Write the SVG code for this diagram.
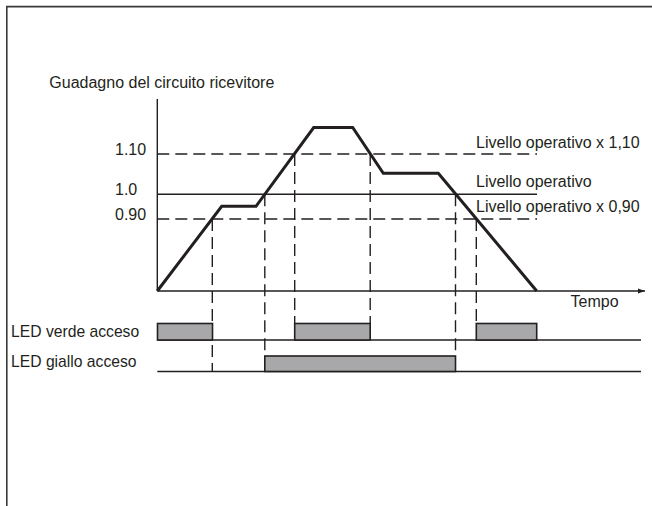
<svg xmlns="http://www.w3.org/2000/svg" width="652" height="506" viewBox="0 0 652 506">
<style>
  text { font-family: "Liberation Sans", Arial, Helvetica, sans-serif; font-size: 16px; fill: #231f20; }
  .led { font-size: 15.7px; }
  .thin { stroke: #231f20; stroke-width: 1.4; fill: none; }
  .dash { stroke: #231f20; stroke-width: 1.4; fill: none; stroke-dasharray: 12 6; }
  .curve { stroke: #231f20; stroke-width: 3; fill: none; stroke-linejoin: miter; }
  .bar { fill: #a8a8ab; stroke: #231f20; stroke-width: 1.6; }
  .frame { stroke: #3a3a3a; stroke-width: 1.6; fill: none; }
</style>
<defs>
  <marker id="arr" markerWidth="8" markerHeight="8" refX="7" refY="4" orient="auto" markerUnits="userSpaceOnUse">
    <path d="M0,1.5 L7,4 L0,6.5 Z" fill="#231f20"/>
  </marker>
</defs>
<rect width="652" height="506" fill="#ffffff"/>
<g id="frame">
  <path class="frame" d="M6.8,506 V6.6 H652"/>
</g>
<g id="axes">
  <line class="thin" x1="157.3" y1="99" x2="157.3" y2="291"/>
  <line class="thin" x1="157.3" y1="291" x2="645" y2="291" marker-end="url(#arr)"/>
  <text x="49.3" y="88">Guadagno del circuito ricevitore</text>
  <text x="570.5" y="306.7">Tempo</text>
</g>
<g id="levels">
  <line class="dash" x1="157.3" y1="154" x2="537" y2="154"/>
  <line class="thin" x1="157.3" y1="194.3" x2="537" y2="194.3"/>
  <line class="dash" x1="157.3" y1="219" x2="537" y2="219"/>
  <text x="115" y="155">1.10</text>
  <text x="115" y="195">1.0</text>
  <text x="115" y="220">0.90</text>
  <text x="476" y="148">Livello operativo x 1,10</text>
  <text x="476" y="187">Livello operativo</text>
  <text x="476" y="212">Livello operativo x 0,90</text>
</g>
<g id="gain-curve">
  <polyline class="curve" points="157.3,291 221.7,206.3 256,206.3 313.7,127.5 352.7,127.5 383.3,173.3 438.3,173.3 536.7,291"/>
</g>
<g id="connectors">
  <line class="dash" x1="212.3" y1="219" x2="212.3" y2="371.5"/>
  <line class="dash" x1="264.8" y1="194.3" x2="264.8" y2="356"/>
  <line class="dash" x1="294.7" y1="154" x2="294.7" y2="323.5"/>
  <line class="dash" x1="370.2" y1="154" x2="370.2" y2="323.5"/>
  <line class="dash" x1="455.5" y1="194.3" x2="455.5" y2="356"/>
  <line class="dash" x1="476.3" y1="219" x2="476.3" y2="323.5"/>
</g>
<g id="led-verde">
  <text class="led" x="11" y="337.3">LED verde acceso</text>
  <line class="thin" x1="157.3" y1="340" x2="641" y2="340"/>
  <rect class="bar" x="157.5" y="323.5" width="55" height="16.5"/>
  <rect class="bar" x="294.7" y="323.5" width="75.5" height="16.5"/>
  <rect class="bar" x="476.3" y="323.5" width="60.4" height="16.5"/>
</g>
<g id="led-giallo">
  <text class="led" x="11" y="366.5">LED giallo acceso</text>
  <line class="thin" x1="157.3" y1="371.5" x2="641" y2="371.5"/>
  <rect class="bar" x="264.8" y="356" width="190.7" height="15.5"/>
</g>
</svg>
